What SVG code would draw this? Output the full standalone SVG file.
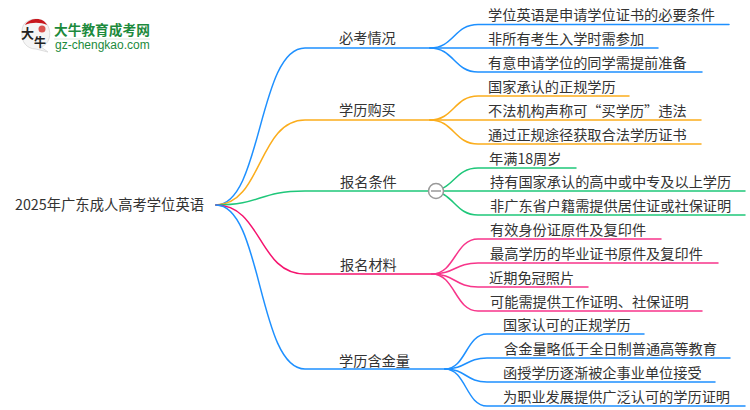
<svg xmlns="http://www.w3.org/2000/svg" width="750" height="410" viewBox="0 0 750 410">
<style>
text{font-family:"Noto Sans CJK SC","Liberation Sans",sans-serif;font-size:14.200px;fill:#333}
.c{fill:none;stroke-width:1.500;stroke-linecap:round}
.b{stroke:#1e90ff}.o{stroke:#fbad1c}.g{stroke:#1fc77a}.p{stroke:#f5136e}.l{stroke:#f7358a}
.logo{font-weight:700;fill:#1c8a3c}
.ink{font-size:13px;font-weight:700;fill:#222}
</style>
<rect width="750" height="410" fill="#fff"/>
<g id="connectors">
<path class="c b" d="M216 205C262 205 258 48 305 48H430"/>
<path class="c o" d="M216 205C262 205 258 120 305 120H430"/>
<path class="c g" d="M216 205C262 205 258 191 305 191H430"/>
<path class="c p" d="M216 205C262 205 258 274 305 274H432"/>
<path class="c b" d="M216 205C262 205 258 369 305 369H445"/>
<path class="c b" d="M430 48C454 48 454 24.500 478 24.500H729"/>
<path class="c b" d="M430 48H658"/>
<path class="c b" d="M430 48C454 48 454 72 478 72H702"/>
<path class="c o" d="M430 120C454 120 454 96 478 96H629"/>
<path class="c o" d="M430 120H701"/>
<path class="c o" d="M430 120C454 120 454 144 478 144H701"/>
<path class="c g" d="M430 191C454 191 454 168 478 168H576"/>
<path class="c g" d="M430 191H745"/>
<path class="c g" d="M430 191C454 191 454 215 478 215H745"/>
<path class="c l" d="M432 274C455 274 455 239 478 239H661"/>
<path class="c l" d="M432 274C455 274 455 263 478 263H718"/>
<path class="c l" d="M432 274C455 274 455 287 478 287H588"/>
<path class="c l" d="M432 274C455 274 455 311 478 311H702"/>
<path class="c b" d="M445 369C466 369 466 334 487 334H644"/>
<path class="c b" d="M445 369C466 369 466 358 487 358H730"/>
<path class="c b" d="M445 369C466 369 466 382 487 382H715"/>
<path class="c b" d="M445 369C466 369 466 406 487 406H745"/>
</g>
<g id="logo">
<path d="M25 23C32 17 44 18 48 26C52 35 49 44 41 47L48 52L36 49C27 49 21 42 22 32C22 28 23 25 25 23Z" fill="#f5f5f5" stroke="#ddd"/>
<path d="M25 25C28 20 33 19 37 19C41 19 45 21 47 25C41 22 31 22 25 25Z" fill="#c8161d"/>
<circle cx="42" cy="29" r="3.500" fill="#d9534f"/>
<text class="ink" x="21" y="38">大</text>
<text class="ink" x="34" y="47" style="font-size:12px">牛</text>
<text class="logo" x="54" y="35" style="font-size:13.700px">大牛教育成考网</text>
<path d="M54 39H150" stroke="#dde8dd" stroke-width="1"/>
<text class="logo" x="55" y="49" style="font-size:12px;font-weight:400;font-family:'Liberation Sans',sans-serif">gz-chengkao.com</text>
</g>
<g id="root"><text x="15" y="210" style="font-size:14.300px">2025年广东成人高考学位英语</text></g>
<g id="n1"><text x="339" y="43">必考情况</text></g>
<g id="n2"><text x="339" y="115">学历购买</text></g>
<g id="n3"><text x="340" y="187">报名条件</text>
<circle cx="436" cy="191" r="7.500" fill="#fff" stroke="#999" stroke-width="1.500"/><path d="M431 191H441" stroke="#999" stroke-width="1.500"/></g>
<g id="n4"><text x="340" y="270">报名材料</text></g>
<g id="n5"><text x="339" y="366">学历含金量</text></g>
<g id="leaves">
<text x="488" y="20">学位英语是申请学位证书的必要条件</text>
<text x="488" y="44">非所有考生入学时需参加</text>
<text x="488" y="68">有意申请学位的同学需提前准备</text>
<text x="488" y="92">国家承认的正规学历</text>
<text x="488" y="116">不法机构声称可“买学历”违法</text>
<text x="488" y="140">通过正规途径获取合法学历证书</text>
<text x="489" y="164">年满18周岁</text>
<text x="490" y="187">持有国家承认的高中或中专及以上学历</text>
<text x="490" y="211">非广东省户籍需提供居住证或社保证明</text>
<text x="490" y="235">有效身份证原件及复印件</text>
<text x="490" y="259">最高学历的毕业证书原件及复印件</text>
<text x="489" y="283">近期免冠照片</text>
<text x="490" y="307">可能需提供工作证明、社保证明</text>
<text x="503" y="330">国家认可的正规学历</text>
<text x="504" y="354">含金量略低于全日制普通高等教育</text>
<text x="503" y="378">函授学历逐渐被企事业单位接受</text>
<text x="503" y="402">为职业发展提供广泛认可的学历证明</text>
</g>
</svg>
